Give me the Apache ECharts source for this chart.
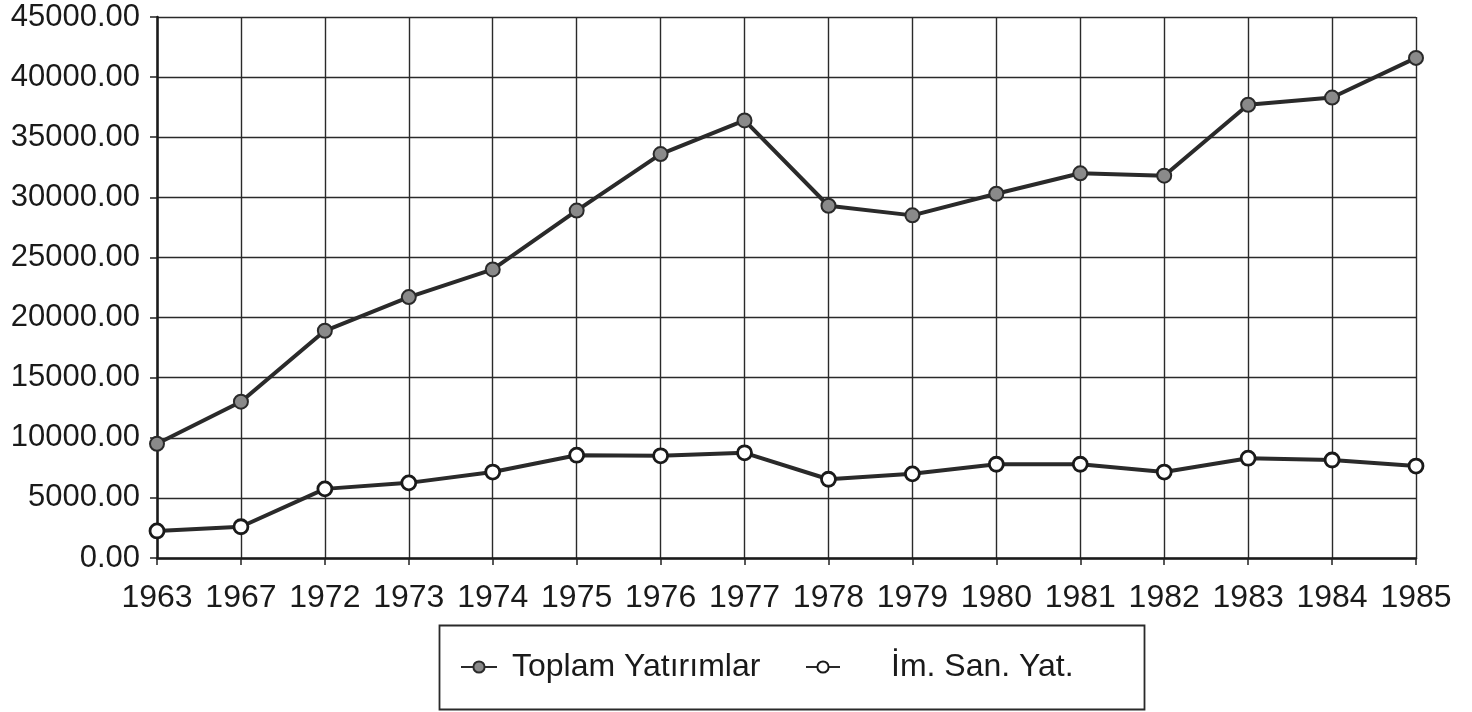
<!DOCTYPE html>
<html>
<head>
<meta charset="utf-8">
<script src="https://cdn.jsdelivr.net/npm/echarts@6/dist/echarts.min.js"></script>
<style>
html,body{margin:0;padding:0;background:#fff;}
#c{width:1472px;height:712px;}
</style>
</head>
<body>
<div id="c"></div>
<script>
const years = ['1963','1967','1972','1973','1974','1975','1976','1977','1978','1979','1980','1981','1982','1983','1984','1985'];
const toplam = [9500,13000,18900,21700,24000,28900,33600,36400,29300,28500,30300,32000,31800,37700,38300,41600];
const imSan = [2250,2600,5750,6250,7150,8550,8500,8750,6550,7000,7800,7800,7150,8300,8150,7650];
const yTicks = {min:0, max:45000, interval:5000};
const seriesNames = ['Toplam Yatırımlar','İm. San. Yat.'];

const font = '"Liberation Sans", Arial, Helvetica, sans-serif';
const chart = echarts.init(document.getElementById('c'));
chart.setOption({
  backgroundColor:'#ffffff',
  animation:false,
  grid:{left:157, right:56, top:17, bottom:154, containLabel:false},
  xAxis:{
    type:'category', data:years, boundaryGap:false,
    axisLine:{show:true, lineStyle:{color:'#1a1a1a', width:2.5}},
    axisTick:{show:true, alignWithLabel:true, length:7, lineStyle:{color:'#222', width:1.5}},
    axisLabel:{color:'#1a1a1a', fontFamily:font, fontSize:32, margin:24, interval:0},
    splitLine:{show:true, lineStyle:{color:'#2a2a2a', width:1.4}}
  },
  yAxis:{
    type:'value', min:yTicks.min, max:yTicks.max, interval:yTicks.interval,
    axisLine:{show:true, lineStyle:{color:'#1a1a1a', width:2.5}},
    axisTick:{show:true, length:7, lineStyle:{color:'#222', width:1.5}},
    axisLabel:{color:'#1a1a1a', fontFamily:font, fontSize:31, margin:17, formatter:v=>v.toFixed(2)},
    splitLine:{show:true, lineStyle:{color:'#2a2a2a', width:1.4}}
  },
  legend:[
    {data:[seriesNames[0]], left:455, top:646, itemWidth:36, itemHeight:14, itemGap:0,
     textStyle:{fontFamily:font, fontSize:32, color:'#1a1a1a', padding:[0,0,0,10]}},
    {data:[seriesNames[1]], left:800, top:646, itemWidth:34, itemHeight:14, itemGap:0,
     textStyle:{fontFamily:font, fontSize:32, color:'#1a1a1a', padding:[0,0,0,46]}}
  ],
  graphic:[
    {type:'rect', left:437, top:623, shape:{width:705, height:84},
     style:{fill:'none', stroke:'#2a2a2a', lineWidth:1.8}, silent:true}
  ],
  series:[
    {name:seriesNames[0], type:'line', data:toplam, symbol:'circle', symbolSize:14,
     lineStyle:{color:'#2a2a2a', width:4},
     itemStyle:{color:'#8a8a8a', borderColor:'#2a2a2a', borderWidth:2}},
    {name:seriesNames[1], type:'line', data:imSan, symbol:'circle', symbolSize:14,
     lineStyle:{color:'#2a2a2a', width:4},
     itemStyle:{color:'#ffffff', borderColor:'#1a1a1a', borderWidth:2.8}}
  ]
});
</script>
</body>
</html>
